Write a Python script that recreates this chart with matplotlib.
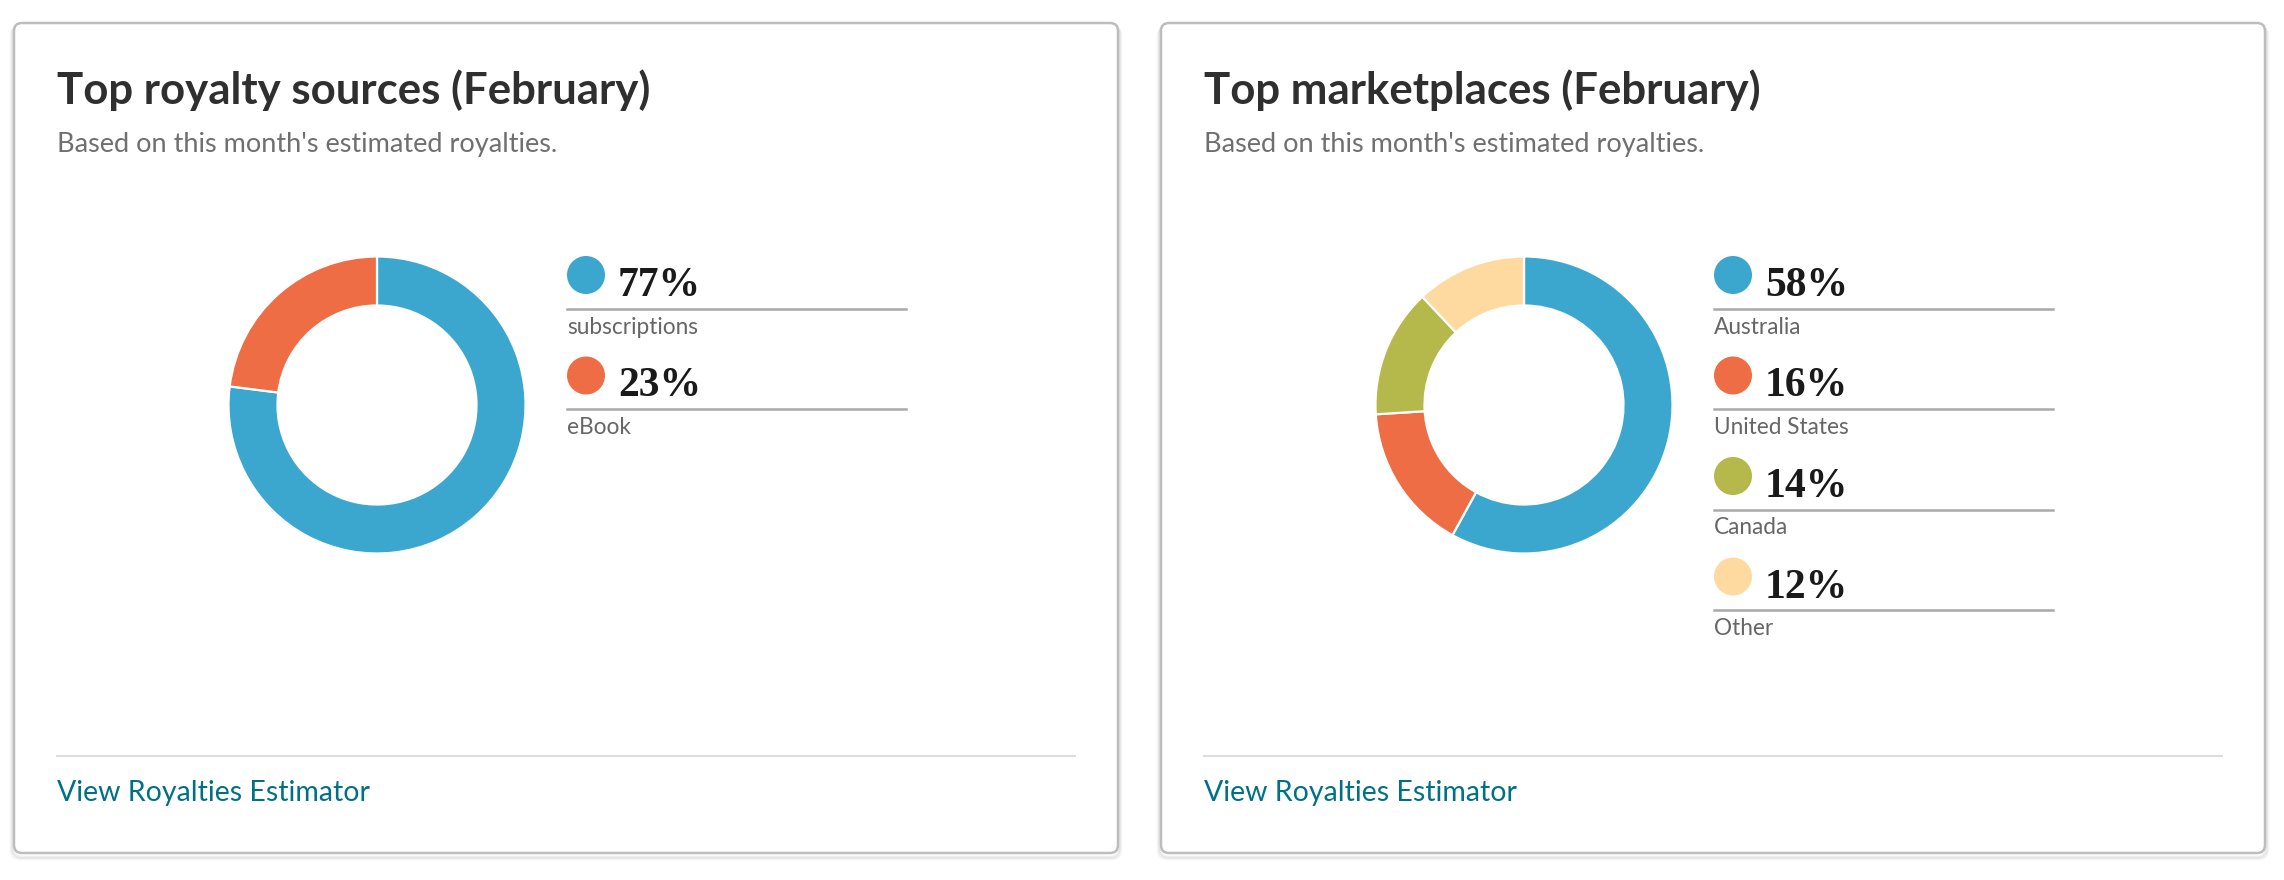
import matplotlib.pyplot as plt
from matplotlib.patches import FancyBboxPatch, Circle

plt.rcParams["font.family"] = ["Lato", "DejaVu Sans"]

# data
card_titles = ["Top royalty sources (February)", "Top marketplaces (February)"]
subtitle = "Based on this month's estimated royalties."
link_text = "View Royalties Estimator"

source_labels = ["subscriptions", "eBook"]
source_values = [77, 23]
market_labels = ["Australia", "United States", "Canada", "Other"]
market_values = [58, 16, 14, 12]

colors = ["#3ca7ce", "#ee6d45", "#b5b84a", "#fedaa1"]

W, H = 2284, 880
fig = plt.figure(figsize=(W / 100, H / 100), dpi=100)
bg = fig.add_axes([0, 0, 1, 1])
bg.set_xlim(0, W)
bg.set_ylim(H, 0)
bg.set_aspect("equal")
bg.axis("off")

card_x = [14, 1161]
card_w = 1104
card_y, card_h = 23, 830


def draw_card(x0, title, labels, values):
    # shadow + card
    for i, a in enumerate([0.05, 0.04, 0.03]):
        bg.add_patch(FancyBboxPatch((x0 - 1 - i, card_y + 2 + i), card_w + 2 + 2 * i, card_h + 2,
                                    boxstyle="round,pad=0,rounding_size=9",
                                    fc="none", ec=(0, 0, 0, a), lw=2))
    bg.add_patch(FancyBboxPatch((x0, card_y), card_w, card_h,
                                boxstyle="round,pad=0,rounding_size=8",
                                fc="white", ec="#bdbdbd", lw=1.8))
    tx = x0 + 43
    bg.text(tx, 104, title, fontsize=31.5, fontweight="bold", color="#2f2f2f",
            ha="left", va="baseline")
    bg.text(tx, 152, subtitle, fontsize=19.5, color="#6f6f6f", ha="left", va="baseline")
    bg.plot([tx, x0 + 1061], [756, 756], color="#dddddd", lw=1.5)
    bg.text(tx, 793, link_text, fontsize=20.5, color="#007185", ha="left", va="center")

    # donut
    cx, cy, R = x0 + 363, 405, 150
    pax = fig.add_axes([(cx - R) / W, 1 - (cy + R) / H, 2 * R / W, 2 * R / H])
    pax.pie(values, colors=colors[:len(values)], startangle=90, counterclock=False,
            wedgeprops=dict(width=0.33, edgecolor="white", linewidth=1.6))
    pax.set_xlim(-1.01, 1.01)
    pax.set_ylim(-1.01, 1.01)

    # legend
    lx = x0 + 553
    for i, (lab, v) in enumerate(zip(labels, values)):
        y = 275 + i * 100.5
        bg.add_patch(Circle((lx + 19, y), 19, fc=colors[i], ec="none"))
        bg.text(lx + 51, y + 21, f"{v}%", fontsize=30, fontweight="bold",
                family=["Liberation Serif", "DejaVu Serif"], color="#1a1a1a",
                ha="left", va="baseline")
        bg.plot([lx, lx + 339], [y + 34, y + 34], color="#a9a9a9", lw=1.8)
        bg.text(lx, y + 52, lab, fontsize=16.3, color="#666666", ha="left", va="center")


draw_card(card_x[0], card_titles[0], source_labels, source_values)
draw_card(card_x[1], card_titles[1], market_labels, market_values)

fig.savefig("out.png", dpi=100, facecolor="white")
